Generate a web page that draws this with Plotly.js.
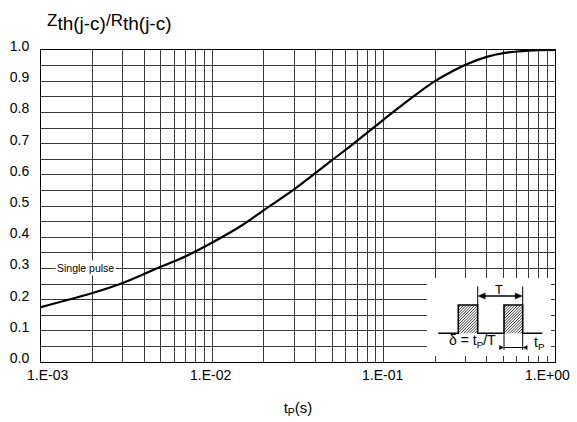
<!DOCTYPE html>
<html>
<head>
<meta charset="utf-8">
<script src="https://cdn.plot.ly/plotly-3.0.1.min.js"></script>
<style>html,body{margin:0;padding:0;background:#fff;}#chart{width:577px;height:422px;}</style>
</head>
<body>
<div id="chart"></div>
<script>
// ---- data ----
const pulseTime = [0.001, 0.002, 0.003, 0.005, 0.007, 0.01, 0.015, 0.02, 0.03, 0.05, 0.07, 0.1, 0.15, 0.2, 0.25, 0.3, 0.4, 0.5, 0.7, 1.0];
const zthRatio  = [0.176, 0.221, 0.253, 0.305, 0.339, 0.383, 0.439, 0.487, 0.553, 0.647, 0.709, 0.777, 0.852, 0.901, 0.931, 0.953, 0.978, 0.990, 0.998, 1.0];

const xMajorVals = [0.001, 0.01, 0.1, 1];
const xMajorText = ['1.E-03', '1.E-02', '1.E-01', '1.E+00'];
const xMinorVals = [0.002,0.003,0.004,0.005,0.006,0.007,0.008,0.009,
                    0.02,0.03,0.04,0.05,0.06,0.07,0.08,0.09,
                    0.2,0.3,0.4,0.5,0.6,0.7,0.8,0.9];
const yMajorVals = [0,0.1,0.2,0.3,0.4,0.5,0.6,0.7,0.8,0.9,1.0];
const yMajorText = ['0.0','0.1','0.2','0.3','0.4','0.5','0.6','0.7','0.8','0.9','1.0'];

// ---- layout geometry (pixels) ----
const M = {l:41, r:22, t:50, b:60};
const W = 577, H = 422;
const PW = W - M.l - M.r, PH = H - M.t - M.b;
const px = x => (x - M.l) / PW;
const py = y => (H - M.b - y) / PH;
const pt = (x, y) => px(x).toFixed(5) + ',' + py(y).toFixed(5);
const pathOf = pts => 'M' + pts.map(p => pt(p[0], p[1])).join('L');

const FONT = '"Liberation Sans", Arial, sans-serif';
const GRID = '#3a3a3a';
const shapes = [];
// white inset box
shapes.push({type:'rect', xref:'paper', yref:'paper', x0:px(427), x1:px(551), y0:py(356), y1:py(278),
  fillcolor:'#ffffff', line:{width:0}, layer:'above'});

// pulse geometry
const pBase = 333.3, pTop = 305;
const p1 = [458.3, 477.7], p2 = [504, 522.7];
function hatch(x0, x1, y0, y1, s) {
  let d = '';
  for (let c = x0 + y0; c <= x1 + y1; c += s) {
    const xa = Math.max(x0, c - y1), xb = Math.min(x1, c - y0);
    if (xb <= xa) continue;
    d += 'M' + pt(xa, c - xa) + 'L' + pt(xb, c - xb);
  }
  return d;
}
[p1, p2].forEach(p => {
  shapes.push({type:'path', xref:'paper', yref:'paper', path:hatch(p[0], p[1], pTop, pBase, 2.8),
    line:{color:'#222', width:0.9}, layer:'above'});
});
shapes.push({type:'path', xref:'paper', yref:'paper', layer:'above', line:{color:'#000', width:1.6},
  path: pathOf([[438.3,pBase],[p1[0],pBase],[p1[0],pTop],[p1[1],pTop],[p1[1],pBase],[p2[0],pBase],[p2[0],pTop],[p2[1],pTop],[p2[1],pBase],[542.3,pBase]])});
const lineSh = (pts, w) => ({type:'path', xref:'paper', yref:'paper', layer:'above', line:{color:'#000', width:w||1}, path:pathOf(pts)});
const triSh = pts => ({type:'path', xref:'paper', yref:'paper', layer:'above', line:{color:'#000', width:0.5}, fillcolor:'#000', path:pathOf(pts)+'Z'});
// T dimension
shapes.push(lineSh([[p1[1],pTop],[p1[1],286.5]]));
shapes.push(lineSh([[p2[1],pTop],[p2[1],286.5]]));
shapes.push(lineSh([[p1[1]+3,296],[p2[1]-3,296]], 1.4));
shapes.push(triSh([[p1[1]+0.5,296],[p1[1]+7.5,293],[p1[1]+7.5,299]]));
shapes.push(triSh([[p2[1]-0.5,296],[p2[1]-7.5,293],[p2[1]-7.5,299]]));
// tP dimension
shapes.push(lineSh([[p2[0],pBase],[p2[0],350]]));
shapes.push(lineSh([[p2[1],pBase],[p2[1],350]]));
shapes.push(lineSh([[p2[0],347.5],[p2[1],347.5]]));
shapes.push(triSh([[p2[0]-0.5,347.5],[p2[0]-4.5,345.5],[p2[0]-4.5,349.5]]));
shapes.push(triSh([[p2[1]+0.5,347.5],[p2[1]+4.5,345.5],[p2[1]+4.5,349.5]]));

const annotations = [
  {xref:'paper', yref:'paper', x:px(45), y:py(22), xanchor:'left', yanchor:'middle', showarrow:false,
   text:'Z<sub><span style="font-size:19px">th(j-c)</span></sub>/R<sub><span style="font-size:19px">th(j-c)</span></sub>',
   font:{family:FONT, size:17, color:'#000'}},
  {xref:'paper', yref:'y', x:px(85), y:0.3, xanchor:'center', yanchor:'middle', showarrow:false,
   text:'Single pulse', bgcolor:'#ffffff', borderpad:1, font:{family:FONT, size:10.5, color:'#000'}},
  {xref:'paper', yref:'paper', x:px(498.5), y:py(289), xanchor:'center', yanchor:'middle', showarrow:false,
   text:'T', font:{family:FONT, size:13, color:'#000'}},
  {xref:'paper', yref:'paper', x:px(472), y:py(341), xanchor:'center', yanchor:'middle', showarrow:false,
   text:'δ = t<sub>P</sub>/T', font:{family:FONT, size:14, color:'#000'}},
  {xref:'paper', yref:'paper', x:px(539), y:py(343), xanchor:'center', yanchor:'middle', showarrow:false,
   text:'t<sub>P</sub>', font:{family:FONT, size:14, color:'#000'}}
];
// x tick labels, placed on the log axis
const xLabelShift = [6, -2, -1, -8];
xMajorVals.forEach((v, i) => {
  annotations.push({xref:'x', yref:'paper', x:Math.log10(v), y:py(375), xanchor:'center', yanchor:'middle',
    xshift:xLabelShift[i], showarrow:false, text:xMajorText[i], font:{family:FONT, size:14, color:'#000'}});
});

const trace = {
  x: pulseTime, y: zthRatio, type:'scatter', mode:'lines',
  line:{color:'#000', width:2.2, shape:'spline', smoothing:1},
  hoverinfo:'skip', showlegend:false
};

const layout = {
  width:W, height:H, margin:M, paper_bgcolor:'#fff', plot_bgcolor:'#fff',
  font:{family:FONT, size:14, color:'#000'},
  showlegend:false,
  xaxis:{type:'log', range:[-3,0], tickmode:'array', tickvals:xMajorVals, showticklabels:false, ticks:'',
    showgrid:true, gridcolor:GRID, gridwidth:1, zeroline:false,
    minor:{tickmode:'array', tickvals:xMinorVals, showgrid:true, gridcolor:GRID, gridwidth:1, ticks:''},
    showline:true, linecolor:'#000', linewidth:1, mirror:true,
    title:{text:'t<sub>P</sub>(s)', font:{family:FONT, size:15, color:'#000'}, standoff:40}},
  yaxis:{range:[0,1], tickmode:'array', tickvals:yMajorVals, ticktext:yMajorText, ticks:'',
    showgrid:true, gridcolor:GRID, gridwidth:1, zeroline:false,
    minor:{dtick:0.05, tick0:0, showgrid:true, gridcolor:GRID, gridwidth:1, ticks:''},
    showline:true, linecolor:'#000', linewidth:1, mirror:true,
    ticklabelstandoff:8, ticklabelshift:-4, tickfont:{family:FONT, size:14, color:'#000'}},
  shapes:shapes, annotations:annotations
};

Plotly.newPlot('chart', [trace], layout, {displayModeBar:false, staticPlot:true});
</script>
</body>
</html>
